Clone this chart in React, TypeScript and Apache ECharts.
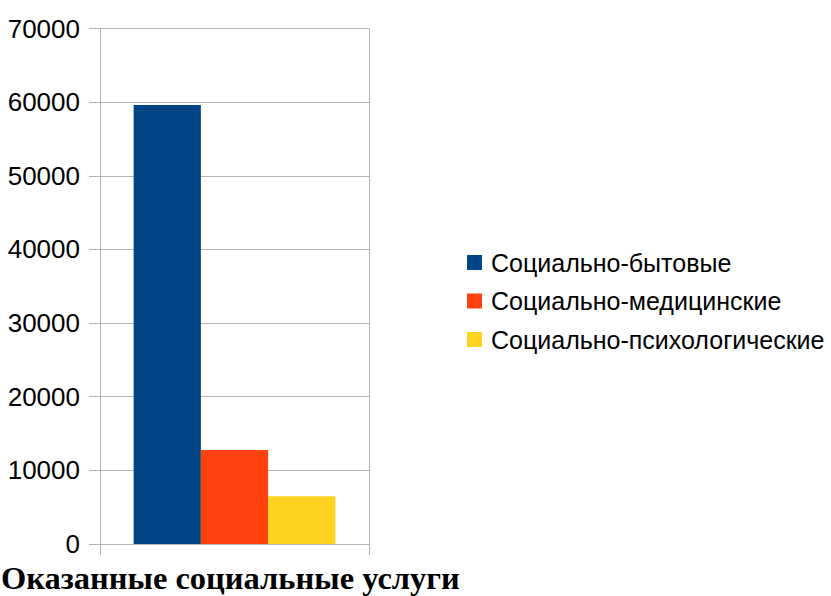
import React, { useEffect, useRef } from "react";
import * as echarts from "echarts";

const categories = [""];
const seriesNames = ["Социально-бытовые", "Социально-медицинские", "Социально-психологические"];
const seriesValues = [[59600], [12750], [6500]];
const colors = ["#004586", "#ff420e", "#ffd320"];
const titleText = "Оказанные социальные услуги";

export default function App() {
  const ref = useRef<HTMLDivElement>(null);
  useEffect(() => {
    if (!ref.current) return;
    const chart = echarts.init(ref.current, null, { renderer: "svg" });
    chart.setOption({
      animation: false,
      backgroundColor: "#ffffff",
      grid: { left: 100, right: 462, top: 28.5, bottom: 52, containLabel: false },
      title: {
        text: titleText,
        left: 1,
        top: 561,
        padding: 0,
        textStyle: { fontFamily: "Liberation Serif", fontWeight: "bold", fontSize: 32.5, color: "#000" },
      },
      legend: {
        orient: "vertical",
        left: 467,
        top: 250,
        padding: 0,
        itemWidth: 15,
        itemHeight: 15,
        itemGap: 13.5,
        icon: "rect",
        textStyle: { fontFamily: "Liberation Sans", fontSize: 25, color: "#000", padding: [0, 0, 0, 4] },
        data: seriesNames,
      },
      xAxis: {
        type: "category",
        data: categories,
        axisLine: { show: true, lineStyle: { color: "#b3b3b3", width: 1 } },
        axisTick: { show: true, length: 11, lineStyle: { color: "#b3b3b3" } },
        axisLabel: { show: false },
        splitLine: { show: true, lineStyle: { color: "#b3b3b3", width: 1 } },
      },
      yAxis: {
        type: "value",
        min: 0,
        max: 70000,
        interval: 10000,
        axisLine: { show: true, lineStyle: { color: "#b3b3b3", width: 1 } },
        axisTick: { show: true, length: 11, lineStyle: { color: "#b3b3b3" } },
        axisLabel: {
          margin: 20,
          fontFamily: "Liberation Sans",
          fontSize: 26,
          color: "#000",
          formatter: (v: number) => String(v),
        },
        splitLine: { show: true, lineStyle: { color: "#b3b3b3", width: 1 } },
      },
      series: seriesNames.map((name, i) => ({
        name,
        type: "bar",
        data: seriesValues[i],
        itemStyle: { color: colors[i] },
        barGap: "0%",
        barCategoryGap: "25%",
      })),
    });
    return () => chart.dispose();
  }, []);
  return <div ref={ref} style={{ position: "fixed", left: 0, top: 0, width: 831, height: 596 }} />;
}
